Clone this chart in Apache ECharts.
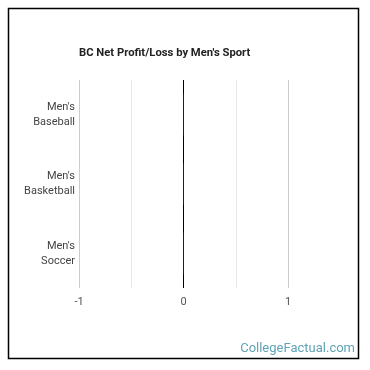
<!DOCTYPE html>
<html><head><meta charset="utf-8">
<script src="https://cdn.jsdelivr.net/npm/echarts@6/dist/echarts.min.js"></script>
<style>html,body{margin:0;padding:0;background:#fff}#c{width:370px;height:370px}</style>
</head><body><div id="c"></div>
<script>
const categories = ["Men's\nBaseball", "Men's\nBasketball", "Men's\nSoccer"];
const values = [-0.004, -0.004, -0.004];
const tickLabels = {'-1': '-1', '0': '0', '1': '1'};

const chart = echarts.init(document.getElementById('c'), null, {renderer: 'canvas'});
chart.setOption({
  animation: false,
  title: {
    text: "BC Net Profit/Loss by Men's Sport",
    left: 74, top: 43,
    textStyle: {fontFamily: 'Roboto', fontSize: 11.25, fontWeight: 'bold', color: '#222'}
  },
  grid: {left: 79, right: 82, top: 80, bottom: 82, containLabel: false},
  xAxis: {
    type: 'value', min: -1, max: 1, interval: 0.5,
    axisLine: {show: false}, axisTick: {show: false},
    axisLabel: {
      formatter: v => tickLabels[String(v)] || '',
      fontFamily: 'Roboto', fontSize: 11, color: '#555', margin: 9
    },
    splitLine: {lineStyle: {color: ['#cccccc', '#e8e8e8', '#000000', '#e8e8e8', '#cccccc'], width: 1}}
  },
  yAxis: {
    type: 'category', data: categories, inverse: true,
    axisLine: {show: false}, axisTick: {show: false},
    axisLabel: {fontFamily: 'Roboto', fontSize: 11, color: '#444', lineHeight: 15, margin: 4}
  },
  series: [{
    type: 'bar', data: values, barWidth: '60%',
    itemStyle: {color: '#2f4b7c'}
  }],
  graphic: [
    {type: 'rect', shape: {x: 8.5, y: 8.5, width: 350, height: 350},
     style: {fill: 'none', stroke: '#000', lineWidth: 1.5}},
    {type: 'text', right: 15, bottom: 15,
     style: {text: 'CollegeFactual.com', fontFamily: 'Roboto', fontSize: 13, fill: '#5fa3b5'}}
  ]
});
</script></body></html>
